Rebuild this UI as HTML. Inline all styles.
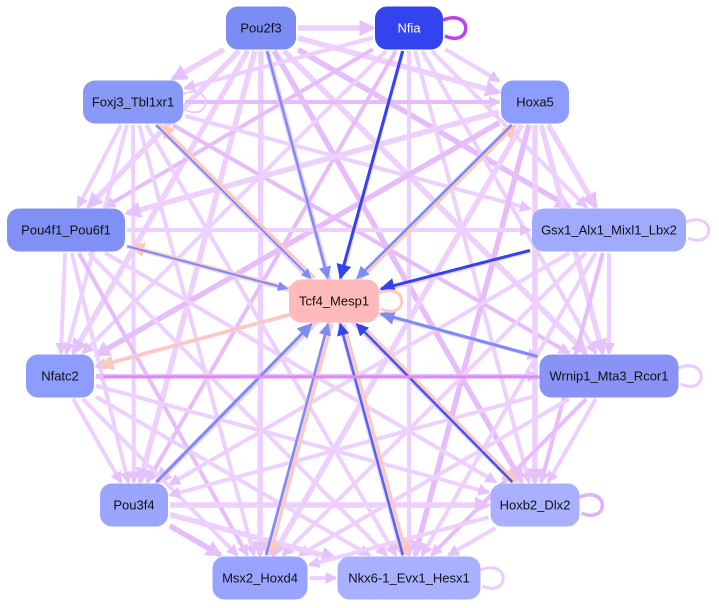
<!DOCTYPE html>
<html><head><meta charset="utf-8">
<style>
html,body{margin:0;padding:0;background:#fff;}
svg{display:block;font-family:"Liberation Sans",sans-serif;}
</style></head>
<body>
<svg id="g" width="719" height="608" viewBox="0 0 719 608" xmlns="http://www.w3.org/2000/svg">
<defs>
<marker id="ml" markerWidth="3" markerHeight="3" refX="2.5" refY="1.5" orient="auto" markerUnits="strokeWidth"><path d="M0,0L3,1.5L0,3z" fill="#e6c2fb"/></marker>
<marker id="mb" markerWidth="5" markerHeight="5" refX="4.5" refY="2.5" orient="auto" markerUnits="strokeWidth"><path d="M0,0L5,2.5L0,5z" fill="#7b8cf5"/></marker>
<marker id="md" markerWidth="5" markerHeight="5" refX="4.5" refY="2.5" orient="auto" markerUnits="strokeWidth"><path d="M0,0L5,2.5L0,5z" fill="#3344ee"/></marker>
<marker id="mp" markerWidth="5" markerHeight="5" refX="4.5" refY="2.5" orient="auto" markerUnits="strokeWidth"><path d="M0,0L5,2.5L0,5z" fill="#ffc8bc"/></marker>
</defs>
<g id="edges"></g>
<g id="hl"></g>
<g id="nodes"></g>
</svg>
<script>
var N={
Pou2f3:[261,28,70,"#7b8cf5"],Nfia:[409,28,68,"#3344ee"],Foxj3_Tbl1xr1:[133,102,100,"#8899f8"],
Hoxa5:[535,102,68,"#8d9cff"],Pou4f1_Pou6f1:[66,230,118,"#8090f5"],Gsx1_Alx1_Mixl1_Lbx2:[609,230,154,"#a0aaff"],
Tcf4_Mesp1:[334,301,90,"#ffbbbb"],Nfatc2:[60,376,68,"#8d9cff"],Wrnip1_Mta3_Rcor1:[609,376,139,"#8893f5"],
Pou3f4:[134,505,68,"#9aa5ff"],Hoxb2_Dlx2:[535,505,89,"#a8b0ff"],Msx2_Hoxd4:[260,578,95,"#98a4ff"],
"Nkx6-1_Evx1_Hesx1":[409,578,143,"#a8b0ff"]};
var ns="http://www.w3.org/2000/svg";
function el(t,a,p){var e=document.createElementNS(ns,t);for(var k in a)e.setAttribute(k,a[k]);p.appendChild(e);return e;}
function clip(a,b){
 var dx=b[0]-a[0],dy=b[1]-a[1],hw=a[2]/2+2,hh=23;
 var s=Math.min(Math.abs(dx)>0?hw/Math.abs(dx):1e9,Math.abs(dy)>0?hh/Math.abs(dy):1e9);
 return [a[0]+dx*s,a[1]+dy*s];}
var E=document.getElementById("edges"),H=document.getElementById("hl"),ND=document.getElementById("nodes");
var keys=Object.keys(N),i,j;
for(i=0;i<keys.length;i++)for(j=i+1;j<keys.length;j++){
 if(keys[i]=="Tcf4_Mesp1"||keys[j]=="Tcf4_Mesp1")continue;
 var a=N[keys[i]],b=N[keys[j]],p=clip(a,b),q=clip(b,a);
 var w=(i*7+j*3)%3==0?5.5:4;
 var c=(i+j)%5==0?"#e6bcfb":"#edd0fd";
 el("line",{x1:p[0],y1:p[1],x2:q[0],y2:q[1],stroke:c,"stroke-width":w,"marker-end":"url(#ml)"},E);
}
var T=N.Tcf4_Mesp1;
var into={Pou2f3:["#7b8cf5","mb",2.5],Nfia:["#3344ee","md",3],Foxj3_Tbl1xr1:["#7b8cf5","mb",2],Hoxa5:["#7b8cf5","mb",2.5],
Gsx1_Alx1_Mixl1_Lbx2:["#3344ee","md",3],Wrnip1_Mta3_Rcor1:["#7b8cf5","mb",3],Pou3f4:["#7b8cf5","mb",3],
Hoxb2_Dlx2:["#4455ee","md",2.5],"Nkx6-1_Evx1_Hesx1":["#5566ee","md",2.5],Msx2_Hoxd4:["#7b8cf5","mb",2.5],Pou4f1_Pou6f1:["#7b8cf5","mb",2]};
var outp=["Foxj3_Tbl1xr1","Pou4f1_Pou6f1","Nfatc2","Hoxa5","Hoxb2_Dlx2","Msx2_Hoxd4","Nkx6-1_Evx1_Hesx1"];
outp.forEach(function(k){var b=N[k],p=clip(T,b),q=clip(b,T);
 el("line",{x1:p[0]+4,y1:p[1],x2:q[0]+4,y2:q[1],stroke:"#ffc8bc","stroke-width":3,"marker-end":"url(#mp)"},H);});
for(var k in into){var b=N[k],p=clip(b,T),q=clip(T,b),s=into[k];
 el("line",{x1:p[0],y1:p[1],x2:q[0],y2:q[1],stroke:s[0],"stroke-width":s[2],"marker-end":"url(#"+s[1]+")"},H);}
el("line",{x1:540,y1:377,x2:96,y2:377,stroke:"#d88cf5","stroke-width":3,"marker-end":"url(#ml)"},H);
function loop(k,c,w){var n=N[k],x=n[0]+n[2]/2;el("path",{d:"M"+x+","+(n[1]-8)+" C"+(x+30)+","+(n[1]-20)+" "+(x+30)+","+(n[1]+20)+" "+(x+2)+","+(n[1]+8),fill:"none",stroke:c,"stroke-width":w},H);}
loop("Nfia","#c040ee",3.5);loop("Tcf4_Mesp1","#ffc8bc",3);loop("Gsx1_Alx1_Mixl1_Lbx2","#ebcbfc",3);
loop("Wrnip1_Mta3_Rcor1","#ebcbfc",3);loop("Hoxb2_Dlx2","#e0b0fa",3.5);loop("Nkx6-1_Evx1_Hesx1","#ebcbfc",3);loop("Foxj3_Tbl1xr1","#ebcbfc",2);
for(var k in N){var n=N[k];
 el("rect",{x:n[0]-n[2]/2,y:n[1]-21.5,width:n[2],height:43,rx:12,fill:n[3]},ND);
 var t=el("text",{x:n[0],y:n[1]+4.5,"text-anchor":"middle","font-size":"13",fill:k=="Nfia"?"#fff":"#111"},ND);
 t.textContent=k;}
</script>
</body></html>
